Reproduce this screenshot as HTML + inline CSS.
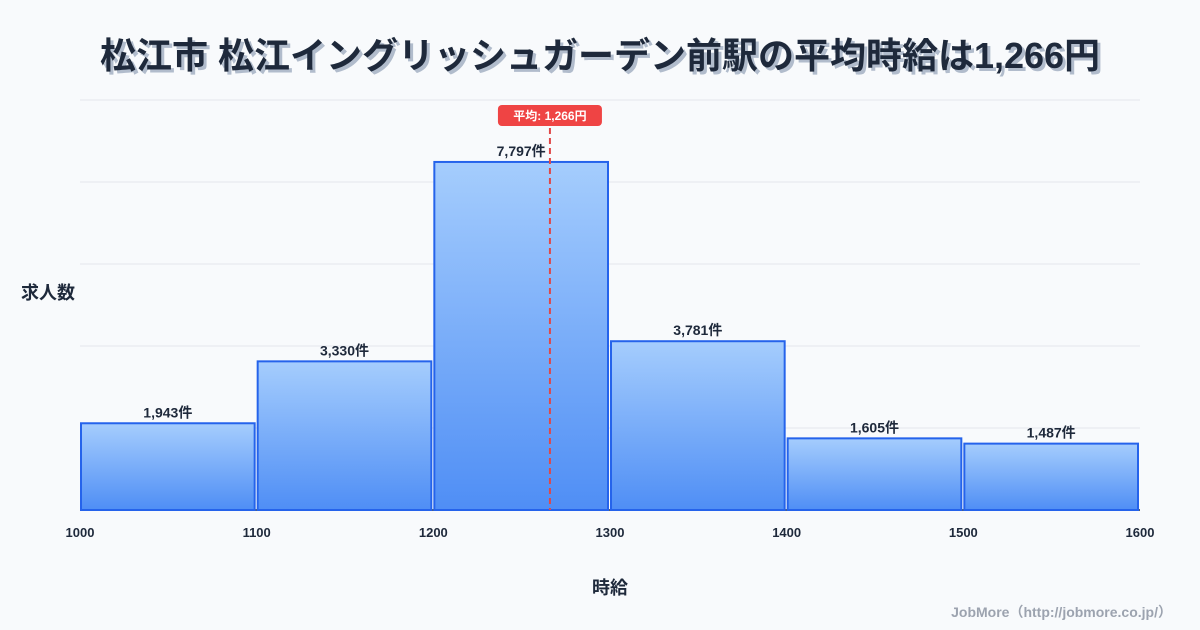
<!DOCTYPE html>
<html><head><meta charset="utf-8">
<style>
body{margin:0;background:#f8fafc;font-family:"Liberation Sans","Noto Sans CJK JP",sans-serif;}
#wrap{position:relative;width:1200px;height:630px;overflow:hidden;background:#f8fafc;}
</style></head>
<body>
<div id="wrap">
<svg id="chart" width="1200" height="630">
<defs>
<linearGradient id="bg" x1="0" y1="0" x2="0" y2="1">
<stop offset="0" stop-color="#a5cdfd"/><stop offset="1" stop-color="#4f8ef5"/>
</linearGradient>
</defs>
<text x="603" y="71" text-anchor="middle" font-size="36" font-weight="bold" fill="#94a3b8" opacity="0.7">松江市 松江イングリッシュガーデン前駅の平均時給は1,266円</text>
<text x="600" y="68" text-anchor="middle" font-size="36" font-weight="bold" fill="#1e293b">松江市 松江イングリッシュガーデン前駅の平均時給は1,266円</text>
<g id="grid"></g>
<g id="bars"></g>
<g id="xticks"></g>
<text x="48" y="299" text-anchor="middle" font-size="18" font-weight="bold" fill="#1e293b">求人数</text>
<text x="610" y="594" text-anchor="middle" font-size="18" font-weight="bold" fill="#1e293b">時給</text>
<text x="1172" y="617" text-anchor="end" font-size="14" font-weight="bold" fill="#9ca3af">JobMore（http://jobmore.co.jp/）</text>
<g id="mean"></g>
</svg>
</div>
<script>
const binStarts=[1000,1100,1200,1300,1400,1500];
const binWidth=100;
const counts=[1943,3330,7797,3781,1605,1487];
const countLabels=["1,943件","3,330件","7,797件","3,781件","1,605件","1,487件"];
const xTicks=[1000,1100,1200,1300,1400,1500,1600];
const meanValue=1266;
const meanLabel="平均: 1,266円";

const NS="http://www.w3.org/2000/svg";
const x0=80,x1=1140,yB=510,yT=100;
const xMin=1000,xMax=1600;
const yMax=Math.max(...counts)*1.178;
const xs=v=>x0+(v-xMin)/(xMax-xMin)*(x1-x0);
const ys=v=>yB-v/yMax*(yB-yT);
function mk(t,a,p){const e=document.createElementNS(NS,t);for(const k in a)e.setAttribute(k,a[k]);p.appendChild(e);return e;}
const grid=document.getElementById('grid');
for(let i=0;i<=5;i++){const y=yB-i*(yB-yT)/5;
const l=mk('line',{x1:x0,x2:x1,y1:y,y2:y,stroke:i==0?'#1e293b':'#e5e7eb','stroke-width':i==0?1.5:1},grid);

}
const bars=document.getElementById('bars');
counts.forEach((c,i)=>{
const xa=xs(binStarts[i])+1,xb=xs(binStarts[i]+binWidth)-2,y=ys(c);
const r=mk('rect',{x:xa,y:y,width:xb-xa,height:yB-y,fill:'url(#bg)',stroke:'#2563eb','stroke-width':2},bars);


const t=mk('text',{x:(xa+xb)/2,y:y-6,'text-anchor':'middle','font-size':14,'font-weight':'bold',fill:'#1e293b'},bars);
t.textContent=countLabels[i];

});
const xt=document.getElementById('xticks');
xTicks.forEach(v=>{const t=mk('text',{x:xs(v),y:537,'text-anchor':'middle','font-size':13,'font-weight':'bold',fill:'#1e293b'},xt);
t.textContent=v;

});
const mg=document.getElementById('mean');
const mx=xs(meanValue);
const ml=mk('line',{x1:mx,x2:mx,y1:128,y2:yB,stroke:'#e04848','stroke-width':2,'stroke-dasharray':'6,4'},mg);


const mr=mk('rect',{x:mx-52,y:105,width:104,height:21,rx:4,fill:'#ef4444'},mg);


const mt=mk('text',{x:mx,y:120,'text-anchor':'middle','font-size':12,'font-weight':'bold',fill:'#fff'},mg);
mt.textContent=meanLabel;


</script>
</body></html>
